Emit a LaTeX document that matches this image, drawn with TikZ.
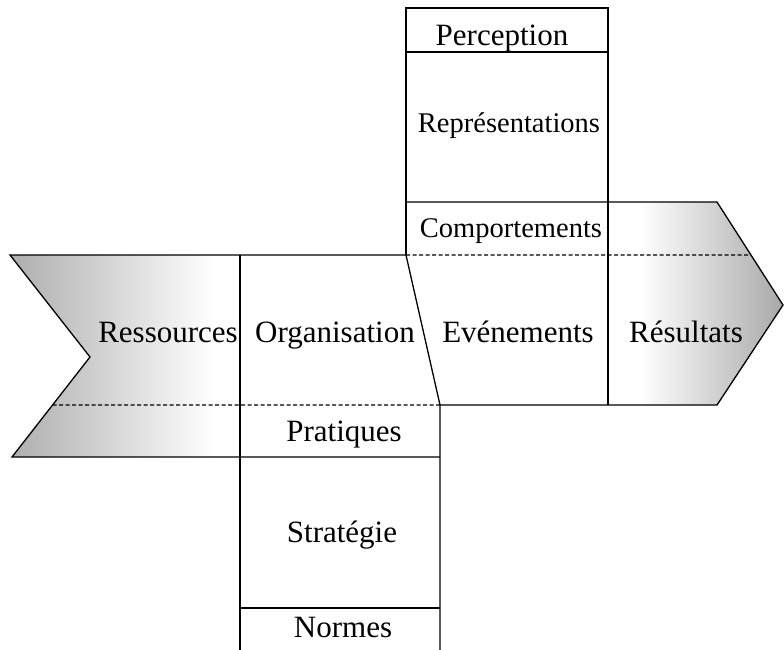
\documentclass[tikz,border=0pt]{standalone}
\usepackage{fontspec}
\setmainfont{Liberation Serif}
\usetikzlibrary{calc}
\tikzset{
    frameline/.style={line width=1.3pt, line join=miter},
    sepline/.style={line width=1.1pt, dash pattern=on 4pt off 2.5pt},
    celltext/.style={anchor=base, inner sep=0pt, font=\fontsize{31}{36}\selectfont},
    celltextsmall/.style={anchor=base, inner sep=0pt, font=\fontsize{28.5}{34}\selectfont}
}
\begin{document}
\begin{tikzpicture}[x=1pt, y=-1pt]
    \useasboundingbox (0,0) rectangle (784,650);
    % corner points
    \coordinate (inA) at (10,255);
    \coordinate (inN) at (90,357);
    \coordinate (inB) at (12,457);
    \coordinate (orgT) at (240,255);
    \coordinate (orgB) at (240,650);
    \coordinate (evtT) at (406,255);
    \coordinate (evtB) at (440,405);
    \coordinate (evtE) at (440,650);
    \coordinate (topL) at (406,8);
    \coordinate (topR) at (608,8);
    \coordinate (resT) at (717,202);
    \coordinate (resP) at (783,305);
    \coordinate (resB) at (717,405);

    % shaded ends of the band
    \begin{scope}
        \clip (inA) -- (orgT) -- (240,457) -- (inB) -- (inN) -- cycle;
        \shade[left color=black!32, middle color=black!20, right color=white] (10,255) rectangle (215,457);
    \end{scope}
    \begin{scope}
        \clip (608,202) -- (resT) -- (resP) -- (resB) -- (608,405) -- cycle;
        \shade[left color=white, middle color=black!14, right color=black!34] (640,202) rectangle (783,405);
    \end{scope}

    % outline
    \draw[frameline] (evtT) -- (inA) -- (inN) -- (inB) -- (evtB |- inB);
    \draw[frameline] (orgT) -- (orgB);
    \draw[frameline] (evtT) -- (evtB) -- (evtE);
    \draw[frameline] (evtT) -- (topL) -- (topR) -- (topR |- resB);
    \draw[frameline] (evtB) -- (resB) -- (resP) -- (resT) -- (evtT |- resT);
    \draw[frameline] (406,52) -- (608,52);
    \draw[frameline] (240,608) -- (440,608);

    % dashed separators
    \draw[sepline] (evtT) -- ($(resT)!0.515!(resP)$);
    \draw[sepline] ($(inN)!0.48!(inB)$) -- (evtB);

    % labels
    \node[celltext] (perc) at (502,46) {Perception};
    \node[celltextsmall] (repr) at (509,132) {Représentations};
    \node[celltextsmall] (comp) at (511,237) {Comportements};
    \node[celltext] (ress) at (168,342) {Ressources};
    \node[celltext] (orga) at (335,342) {Organisation};
    \node[celltext] (even) at (518,342) {Evénements};
    \node[celltext] (resu) at (686,342) {Résultats};
    \node[celltext] (prat) at (344,441) {Pratiques};
    \node[celltext] (strat) at (342,542) {Stratégie};
    \node[celltext] (norm) at (343,637) {Normes};
\end{tikzpicture}
\end{document}
